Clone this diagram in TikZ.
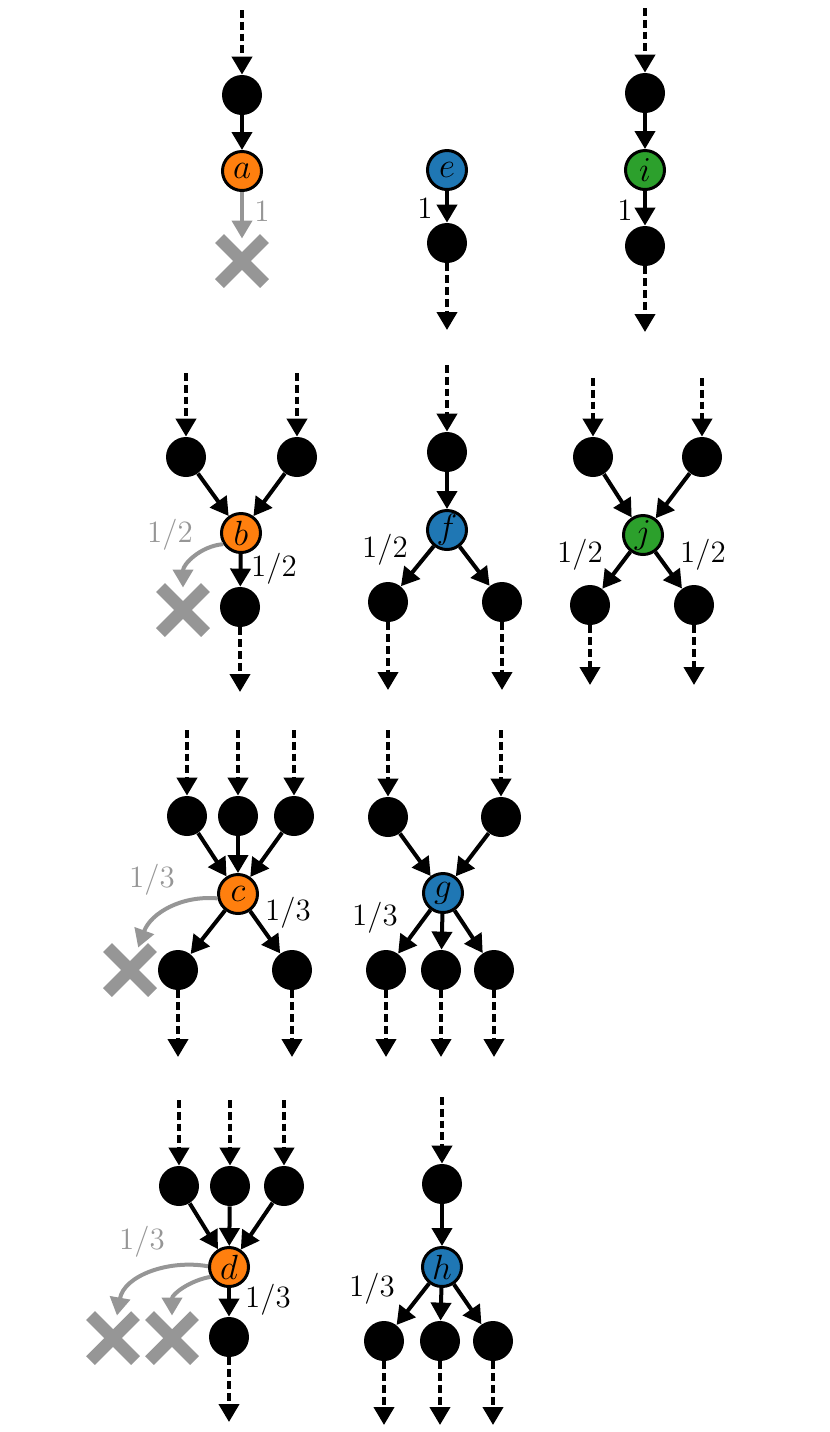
\documentclass[tikz,border=0pt]{standalone}
\usepackage{fix-cm}
\usepackage{amsmath}
\usepackage{tikz}
\usetikzlibrary{arrows.meta,shapes.misc,positioning}
\definecolor{hubO}{RGB}{255,127,14}
\definecolor{hubB}{RGB}{31,119,180}
\definecolor{hubG}{RGB}{44,160,44}
\definecolor{lost}{RGB}{150,150,150}
\tikzset{
	vtx/.style={circle, fill=black, minimum size=20pt, inner sep=0pt},
	hub/.style={circle, draw=black, line width=1.5pt, fill=#1, minimum size=19.5pt,
		inner sep=0pt, font=\fontsize{17.5pt}{19pt}\selectfont},
	gone/.style={cross out, draw=lost, line width=6.2pt, minimum size=22.5pt, inner sep=0pt, outer sep=0pt},
	flow/.style={line width=2pt, -{Triangle[length=9pt,width=10pt]}},
	cont/.style={flow, dash pattern=on 3.9pt off 2pt},
	loss/.style={flow, draw=lost},
	wt/.style={inner sep=0pt, font=\fontsize{15.5pt}{18pt}\selectfont},
	wt lost/.style={wt, text=lost}
}

\begin{document}
\begin{tikzpicture}[x=.5pt, y=-.5pt]
	\useasboundingbox (0,0) rectangle (830,1432);
	% first column, orange
	\node[hub=hubO] (a) at (242,171) {$a$};
	\node[vtx] (a0) at (242,95) {};
	\node[gone] (xa) at (242,261) {};
	\coordinate (a_in) at (242,10);
	\draw[cont] (a_in) -- (a0);
	\draw[flow] (a0) -- (a);
	\draw[loss] (a) -- (xa);
	\node[wt lost] (wa) at ([shift={(20,40)}]a) {$1$};

	\node[hub=hubO] (b) at (241,533) {$b$};
	\foreach \n/\x in {1/186,2/297} {
		\node[vtx] (b\n) at (\x,457) {};
		\coordinate (b\n_in) at (\x,373);
		\draw[cont] (b\n_in) -- (b\n);
		\draw[flow] (b\n) -- (b);
	}
	\node[vtx] (b3) at (240,607) {};
	\coordinate (b3_out) at (240,692);
	\node[gone] (xb) at (183,610) {};
	\draw[flow] (b) -- (b3);
	\draw[cont] (b3) -- (b3_out);
	\draw[loss] (b.212) to[out=185,in=90] (xb);
	\node[wt lost] (wb1) at ([shift={(-71,2)}]b) {$1/2$};
	\node[wt] (wb2) at ([shift={(33,36)}]b) {$1/2$};

	\node[hub=hubO] (c) at (238,894) {$c$};
	\foreach \n/\x in {1/187,2/238,3/294} {
		\node[vtx] (c\n) at (\x,816) {};
		\coordinate (c\n_in) at (\x,730);
		\draw[cont] (c\n_in) -- (c\n);
		\draw[flow] (c\n) -- (c);
	}
	\foreach \n/\x in {4/178,5/292} {
		\node[vtx] (c\n) at (\x,970) {};
		\coordinate (c\n_out) at (\x,1057);
		\draw[flow] (c) -- (c\n);
		\draw[cont] (c\n) -- (c\n_out);
	}
	\node[gone] (xc) at (130,970) {};
	\draw[loss] (c.192) to[out=175,in=70] (xc);
	\node[wt lost] (wc1) at ([shift={(-86,-14)}]c) {$1/3$};
	\node[wt] (wc2) at ([shift={(50,19)}]c) {$1/3$};

	\node[hub=hubO] (d) at (229,1267) {$d$};
	\foreach \n/\x in {1/179,2/230,3/284} {
		\node[vtx] (d\n) at (\x,1186) {};
		\coordinate (d\n_in) at (\x,1100);
		\draw[cont] (d\n_in) -- (d\n);
		\draw[flow] (d\n) -- (d);
	}
	\node[vtx] (d4) at (229,1337) {};
	\coordinate (d4_out) at (229,1422);
	\draw[flow] (d) -- (d4);
	\draw[cont] (d4) -- (d4_out);
	\node[gone] (xd1) at (113,1338) {};
	\node[gone] (xd2) at (172,1338) {};
	\draw[loss] (d.178) to[out=170,in=80] (xd1);
	\draw[loss] (d.208) to[out=190,in=90] (xd2);
	\node[wt lost] (wd1) at ([shift={(-87,-25)}]d) {$1/3$};
	\node[wt] (wd2) at ([shift={(39,33)}]d) {$1/3$};

	% second column, blue
	\node[hub=hubB] (e) at (447,170) {$e$};
	\node[vtx] (e1) at (447,243) {};
	\coordinate (e1_out) at (447,330);
	\draw[flow] (e) -- (e1);
	\draw[cont] (e1) -- (e1_out);
	\node[wt] (we) at ([shift={(-22,38)}]e) {$1$};

	\node[hub=hubB] (f) at (447,530) {$f$};
	\node[vtx] (f0) at (447,452) {};
	\coordinate (f0_in) at (447,365);
	\draw[cont] (f0_in) -- (f0);
	\draw[flow] (f0) -- (f);
	\foreach \n/\x in {1/388,2/502} {
		\node[vtx] (f\n) at (\x,602) {};
		\coordinate (f\n_out) at (\x,690);
		\draw[flow] (f) -- (f\n);
		\draw[cont] (f\n) -- (f\n_out);
	}
	\node[wt] (wf) at ([shift={(-62,20)}]f) {$1/2$};

	\node[hub=hubB] (g) at (443,893) {$g$};
	\foreach \n/\x in {1/388,2/501} {
		\node[vtx] (g\n) at (\x,817) {};
		\coordinate (g\n_in) at (\x,730);
		\draw[cont] (g\n_in) -- (g\n);
		\draw[flow] (g\n) -- (g);
	}
	\foreach \n/\x in {3/386,4/441,5/494} {
		\node[vtx] (g\n) at (\x,970) {};
		\coordinate (g\n_out) at (\x,1057);
		\draw[flow] (g) -- (g\n);
		\draw[cont] (g\n) -- (g\n_out);
	}
	\node[wt] (wg) at ([shift={(-68,25)}]g) {$1/3$};

	\node[hub=hubB] (h) at (442,1267) {$h$};
	\node[vtx] (h0) at (442,1184) {};
	\coordinate (h0_in) at (442,1097);
	\draw[cont] (h0_in) -- (h0);
	\draw[flow] (h0) -- (h);
	\foreach \n/\x in {1/384,2/440,3/493} {
		\node[vtx] (h\n) at (\x,1341) {};
		\coordinate (h\n_out) at (\x,1425);
		\draw[flow] (h) -- (h\n);
		\draw[cont] (h\n) -- (h\n_out);
	}
	\node[wt] (wh) at ([shift={(-70,22)}]h) {$1/3$};

	% third column, green
	\node[hub=hubG] (i) at (645,170) {$i$};
	\node[vtx] (i0) at (645,93) {};
	\coordinate (i0_in) at (645,8);
	\node[vtx] (i1) at (645,246) {};
	\coordinate (i1_out) at (645,332);
	\draw[cont] (i0_in) -- (i0);
	\draw[flow] (i0) -- (i);
	\draw[flow] (i) -- (i1);
	\draw[cont] (i1) -- (i1_out);
	\node[wt] (wi) at ([shift={(-20,40)}]i) {$1$};

	\node[hub=hubG] (j) at (643,535) {$j$};
	\foreach \n/\x in {1/593,2/702} {
		\node[vtx] (j\n) at (\x,457) {};
		\coordinate (j\n_in) at (\x,378);
		\draw[cont] (j\n_in) -- (j\n);
		\draw[flow] (j\n) -- (j);
	}
	\foreach \n/\x in {3/590,4/694} {
		\node[vtx] (j\n) at (\x,605) {};
		\coordinate (j\n_out) at (\x,685);
		\draw[flow] (j) -- (j\n);
		\draw[cont] (j\n) -- (j\n_out);
	}
	\node[wt] (wj1) at ([shift={(-63,20)}]j) {$1/2$};
	\node[wt] (wj2) at ([shift={(60,20)}]j) {$1/2$};
\end{tikzpicture}
\end{document}
